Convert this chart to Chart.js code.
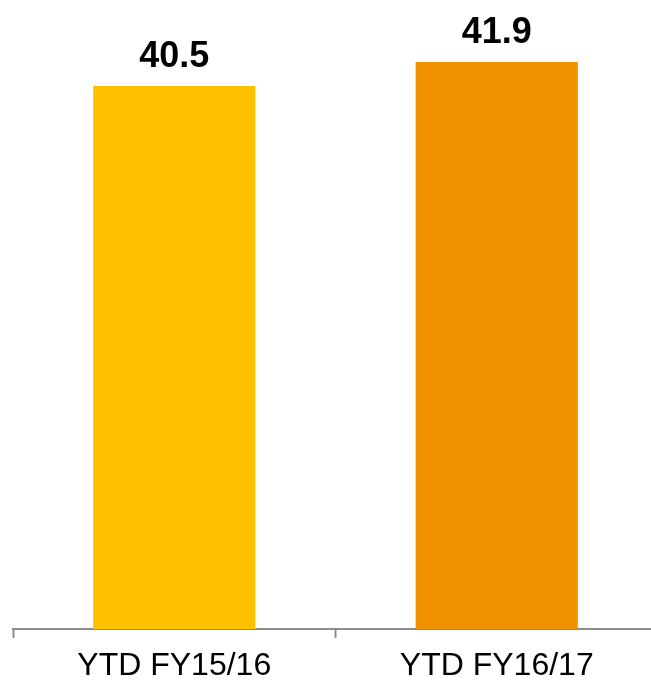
<!DOCTYPE html>
<html>
<head>
<meta charset="utf-8">
<script src="https://cdn.jsdelivr.net/npm/chart.js@4.4.0/dist/chart.umd.min.js"></script>
<style>
  html, body { margin: 0; padding: 0; background: #fff; overflow: hidden; }
  #wrap { position: relative; width: 660px; height: 682px; }
</style>
</head>
<body>
<div id="wrap"><canvas id="chart"></canvas></div>
<script>
const categories = ['YTD FY15/16', 'YTD FY16/17'];
const values = [40.5, 41.9];
const barColors = ['#FFC000', '#F19100'];

// bold value labels above each bar
const valueLabels = {
    id: 'valueLabels',
    afterDatasetsDraw(chart) {
        const ctx = chart.ctx;
        const meta = chart.getDatasetMeta(0);
        ctx.save();
        ctx.font = 'bold 36px "Liberation Sans", Arial, sans-serif';
        ctx.fillStyle = '#000';
        ctx.textAlign = 'center';
        ctx.textBaseline = 'alphabetic';
        meta.data.forEach((bar, i) => {
            ctx.fillText(values[i].toFixed(1), bar.x, bar.y - 19);
        });
        ctx.restore();
    }
};

const ctx = document.getElementById('chart').getContext('2d');
new Chart(ctx, {
    type: 'bar',
    data: {
        labels: categories,
        datasets: [{
            data: values,
            backgroundColor: barColors,
            borderWidth: 0,
            categoryPercentage: 1,
            barPercentage: 0.503
        }]
    },
    options: {
        responsive: true,
        maintainAspectRatio: false,
        animation: false,
        layout: { padding: { top: 9, left: 13, right: 2, bottom: -12 } },
        plugins: {
            legend: { display: false },
            tooltip: { enabled: false }
        },
        scales: {
            x: {
                grid: {
                    drawOnChartArea: false,
                    drawTicks: true,
                    tickLength: 9,
                    tickWidth: 2,
                    tickColor: '#8c8c8c'
                },
                border: { display: true, color: '#8c8c8c', width: 2 },
                ticks: {
                    color: '#000',
                    padding: 12,
                    font: { family: '"Liberation Sans", Arial, sans-serif', size: 32, lineHeight: 1 }
                }
            },
            y: {
                display: false,
                min: 8.8,
                max: 45
            }
        }
    },
    plugins: [valueLabels]
});
</script>
</body>
</html>
